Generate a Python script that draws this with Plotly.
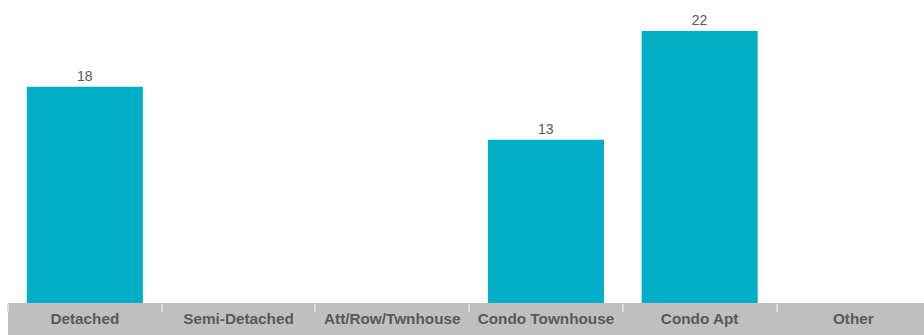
import plotly.graph_objects as go

categories = ["Detached", "Semi-Detached", "Att/Row/Twnhouse", "Condo Townhouse", "Condo Apt", "Other"]
values = [17.5, 0, 0, 13.2, 22, 0]          # bar heights
value_labels = ["18", "", "", "13", "22", ""]  # labels as printed

W, H = 924, 335
ML, MT, MB = 8, 8, 32
cat_px = 153.7
x_max = -0.5 + (W - ML) / cat_px

fig = go.Figure(go.Bar(
    x=categories, y=values, text=value_labels,
    textposition="outside", cliponaxis=False,
    textfont=dict(family="Liberation Sans, Arial", size=14, color="#595959"),
    marker=dict(color="#00AEC7", line=dict(width=0)),
))

fig.add_shape(type="rect", xref="paper", yref="paper",
              x0=0, x1=1, y0=-MB / (H - MB - MT), y1=0,
              fillcolor="#BFBFBF", line=dict(width=0), layer="below")

fig.update_layout(
    width=W, height=H,
    margin=dict(l=ML, r=0, t=MT, b=MB, pad=0, autoexpand=False),
    paper_bgcolor="white", plot_bgcolor="white",
    bargap=0.245, showlegend=False,
    xaxis=dict(range=[-0.5, x_max], showgrid=False, zeroline=False, showline=False,
               automargin=False,
               ticks="outside", tickson="boundaries", ticklen=8, tickwidth=1.5,
               tickcolor="#DDDDDD", ticklabelstandoff=5,
               tickfont=dict(family="Liberation Sans, Arial", size=15.3, color="#595959",
                             weight="bold")),
    yaxis=dict(range=[0, (H - MB - MT) / 12.36], visible=False, showgrid=False,
               zeroline=False, automargin=False),
)

fig.write_html("out.html",
               config={"displayModeBar": False},
               post_script="document.body.style.margin='0';"
                           "document.documentElement.style.overflow='hidden';")
